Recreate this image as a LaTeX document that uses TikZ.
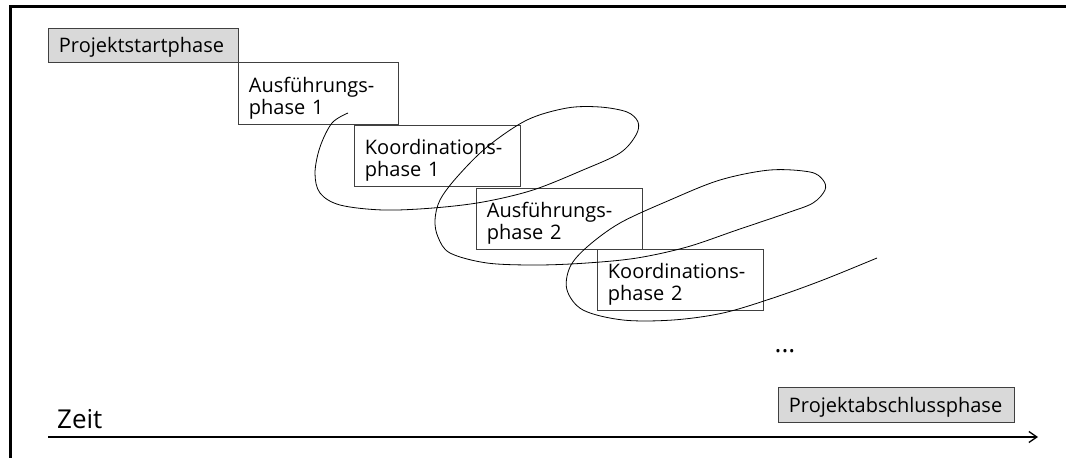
\documentclass[tikz,border=0pt]{standalone}
\usepackage{fontspec}
\setmainfont{Open Sans}
\usetikzlibrary{arrows.meta}
\begin{document}
\begin{tikzpicture}[x=1pt,y=-1pt,
  phase/.style={draw=black!75, line width=0.9pt, fill=white, anchor=north west,
    inner xsep=10.5pt, inner ysep=0pt, align=left,
    font=\fontsize{20}{22}\selectfont},
  grayphase/.style={phase, fill=black!15},
  loopline/.style={line width=0.8pt, black},
  timeline/.style={line width=1.3pt, -{Straight Barb[length=8pt,width=11pt,line width=1.3pt]}},
]
\useasboundingbox (0,0) rectangle (1066,458);

% frame (left and top edges)
\draw[line width=2.5pt] (10.5,458) -- (10.5,6.5) -- (1066,6.5);

% phases
\node[grayphase, text width=169pt] (start) at (48,28)
  {\rule[-10pt]{0pt}{34pt}Projektstartphase};
\node[phase, text width=139pt] (ausf1) at (238,62)
  {\rule{0pt}{30pt}Ausführungs-\\phase 1\rule[-10pt]{0pt}{10pt}};
\node[phase, text width=145pt] (koord1) at (354,125)
  {\rule{0pt}{29pt}Koordinations-\\phase 1\rule[-10pt]{0pt}{10pt}};
\node[phase, text width=145pt] (ausf2) at (476,188)
  {\rule{0pt}{29pt}Ausführungs-\\phase 2\rule[-10pt]{0pt}{10pt}};
\node[phase, text width=145pt] (koord2) at (597,249)
  {\rule{0pt}{29pt}Koordinations-\\phase 2\rule[-10pt]{0pt}{10pt}};

% iteration loop
\draw[loopline] plot[smooth, tension=0.55] coordinates {
  (348,113) (332,123) (320,147) (315,173) (320,193) (340,205) (383,210)
  (433,208) (483,202) (533,190) (583,170) (620,153) (636,135) (638,122)
  (627,112) (600,107) (567,108) (527,120) (487,147) (457,177) (440,200)
  (435,220) (438,237) (450,253) (487,263) (537,265) (587,263) (637,258)
  (687,247) (737,230) (787,213) (813,203) (825,190) (823,180) (810,172)
  (770,170) (720,180) (670,200) (620,223) (587,247) (570,267) (567,290)
  (583,310) (623,320) (673,320) (723,313) (773,298) (823,280) (877,258)};

% continuation and final phase
\node[font=\fontsize{26}{28}\selectfont, inner sep=0pt, anchor=base] (dots) at (785,352) {...};
\node[grayphase, text width=215pt] (ende) at (778,387)
  {\rule[-10pt]{0pt}{35pt}Projektabschlussphase};

% time axis
\coordinate (t0) at (48,437);
\coordinate (t1) at (1038,437);
\draw[timeline] (t0) -- (t1);
\node[font=\fontsize{26}{28}\selectfont, anchor=base west, inner sep=0pt] (zeit) at (57,428) {Zeit};
\end{tikzpicture}
\end{document}
